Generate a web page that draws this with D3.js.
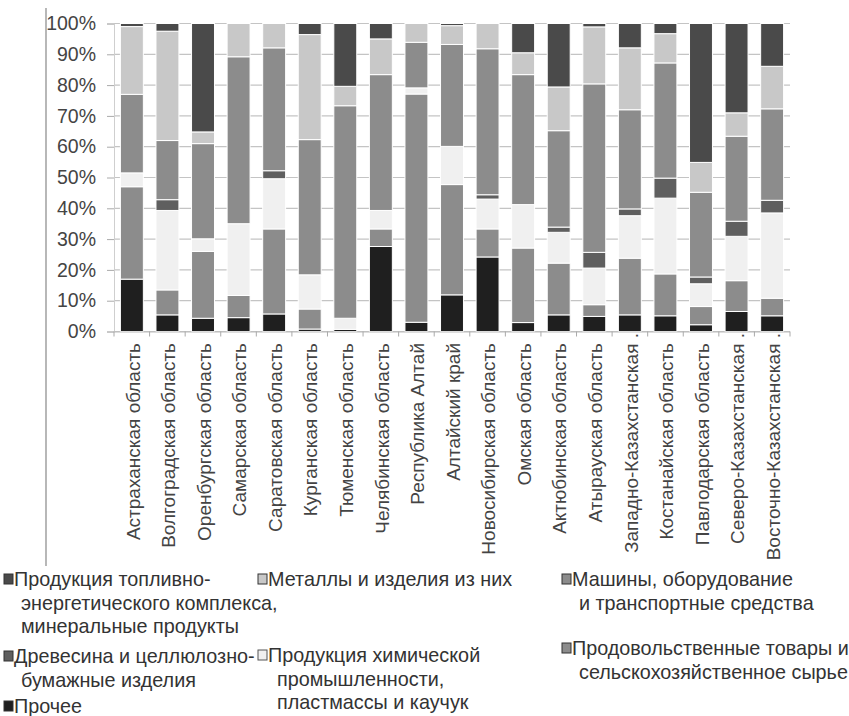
<!DOCTYPE html>
<html><head><meta charset="utf-8">
<script src="https://cdn.jsdelivr.net/npm/d3@7"></script>
<style>
body{margin:0;background:#fff;}
svg{display:block;font-family:"Liberation Sans",Arial,sans-serif;}
</style></head>
<body><svg id="c" width="849" height="716"></svg>
<script>
const regions = ["Астраханская область","Волгоградская область","Оренбургская область","Самарская область","Саратовская область","Курганская область","Тюменская область","Челябинская область","Республика Алтай","Алтайский край","Новосибирская область","Омская область","Актюбинская область","Атырауская область","Западно-Казахстанская .","Костанайская область","Павлодарская область","Северо-Казахстанская .","Восточно-Казахстанская ."];
const prochee = [17, 5.4, 4.3, 4.5, 5.7, 0.8, 0.7, 27.6, 3, 11.9, 24.2, 2.9, 5.4, 4.9, 5.4, 5.1, 2.2, 6.5, 5.1];
const prodov  = [30, 8.1, 21.7, 7.2, 27.6, 6.5, 0, 5.7, 74.1, 35.8, 9.1, 24.2, 16.8, 3.8, 18.4, 13.6, 5.9, 10, 5.7];
const himiya  = [4.5, 25.8, 4.1, 23.3, 16.3, 11.1, 3.6, 6, 2, 12.4, 9.7, 14.1, 10, 11.9, 13.8, 24.6, 7.4, 14.4, 27.7];
const drevesina = [0, 3.5, 0, 0, 2.6, 0, 0, 0, 0, 0, 1.4, 0, 1.7, 5.1, 2.2, 6.5, 2.2, 4.9, 4.1];
const mashiny = [25.5, 19.2, 30.9, 54.2, 39.9, 43.9, 69, 44.1, 14.8, 33.1, 47.4, 42.2, 31.3, 54.7, 32.2, 37.4, 27.5, 27.6, 29.7];
const metally = [22, 35.5, 3.8, 10.8, 7.9, 34.1, 6.3, 11.6, 6.1, 6.1, 8.2, 7.1, 14.2, 18.5, 20.1, 9.5, 9.7, 7.6, 13.8];
const tek     = [1, 2.5, 35.2, 0, 0, 3.6, 20.4, 5, 0, 0.7, 0, 9.5, 20.6, 1.1, 7.9, 3.3, 45.1, 29, 13.9];
const yTicks = [0,10,20,30,40,50,60,70,80,90,100];

const seriesKeys = ["prochee","prodov","himiya","drevesina","mashiny","metally","tek"];
const seriesData = {prochee, prodov, himiya, drevesina, mashiny, metally, tek};
const colors = {prochee:"#1f1f1f", prodov:"#8c8c8c", himiya:"#f0f0f0", drevesina:"#5f5f5f", mashiny:"#8c8c8c", metally:"#c8c8c8", tek:"#4a4a4a"};

const legendItems = [
  {key:"tek", lines:["Продукция топливно-","энергетического комплекса,","минеральные продукты"], x:4, y:586},
  {key:"metally", lines:["Металлы и изделия из них"], x:258, y:586},
  {key:"mashiny", lines:["Машины, оборудование","и  транспортные средства"], x:562, y:586},
  {key:"drevesina", lines:["Древесина и целлюлозно-","бумажные изделия"], x:4, y:663},
  {key:"himiya", lines:["Продукция химической","промышленности,","пластмассы и каучук"], x:258, y:662},
  {key:"prodov", lines:["Продовольственные товары и","сельскохозяйственное сырье"], x:562, y:655},
  {key:"prochee", lines:["Прочее"], x:4, y:713}
];

const table = regions.map((r,i)=>{const o={region:r}; seriesKeys.forEach(k=>o[k]=seriesData[k][i]); return o;});
const stackData = d3.stack().keys(seriesKeys)(table);

const svg = d3.select("#c");
const pL=114, pR=790, pT=23.5, pB=331.5;
const x = d3.scaleBand().domain(regions).range([pL,pR]).paddingInner(0.355).paddingOuter(0.18);
const y = d3.scaleLinear().domain([0,100]).range([pB,pT]);

svg.append("line").attr("x1",46).attr("x2",46).attr("y1",8).attr("y2",566).attr("stroke","#888").attr("stroke-width",1.2);

svg.append("g").selectAll("line").data(yTicks).join("line")
  .attr("x1",pL).attr("x2",pR).attr("y1",d=>y(d)).attr("y2",d=>y(d))
  .attr("stroke","#c4c4c4").attr("stroke-width",1.2);

const yAxis = d3.axisLeft(y).tickValues(yTicks).tickFormat(d=>d+"%").tickSize(7).tickPadding(11);
const ga = svg.append("g").attr("transform",`translate(${pL},0)`).call(yAxis);
ga.select(".domain").attr("stroke","#cfcfcf");
ga.selectAll(".tick line").attr("stroke","#aaa");
ga.selectAll("text").attr("font-size",19.5).attr("fill","#444").attr("font-family","Liberation Sans, Arial");

svg.append("g").selectAll("g").data(stackData).join("g")
  .attr("fill",d=>colors[d.key])
  .selectAll("rect").data(d=>d).join("rect")
  .attr("x",d=>x(d.data.region)).attr("width",x.bandwidth())
  .attr("y",d=>y(d[1])).attr("height",d=>Math.max(0,y(d[0])-y(d[1])))
  .attr("stroke","#fff").attr("stroke-width",1);

svg.append("line").attr("x1",pL).attr("x2",pR).attr("y1",pB+0.5).attr("y2",pB+0.5).attr("stroke","#bbb");
svg.append("g").selectAll("line").data(d3.range(regions.length+1)).join("line")
  .attr("x1",i=>pL+i*(pR-pL)/regions.length).attr("x2",i=>pL+i*(pR-pL)/regions.length)
  .attr("y1",pB).attr("y2",pB+5).attr("stroke","#aaa");
svg.append("g").selectAll("text").data(regions).join("text")
  .attr("transform",d=>`translate(${x(d)+x.bandwidth()/2+1},${d.endsWith(" .")?333:343}) rotate(-90)`)
  .attr("text-anchor","end").attr("dy","0.35em")
  .attr("font-size",19).attr("fill","#444").text(d=>d);

const lg = svg.append("g").selectAll("g").data(legendItems).join("g")
  .attr("transform",d=>`translate(${d.x},${d.y})`);
lg.append("rect").attr("x",0).attr("y",-12).attr("width",9).attr("height",10)
  .attr("fill",d=>colors[d.key]).attr("stroke",d=>d.key==="himiya"?"#555":"#333").attr("stroke-width",1);
lg.each(function(d){
  const g=d3.select(this);
  d.lines.forEach((ln,i)=>{
    g.append("text").attr("x",i===0?10:(d.key==="himiya"?19:17)).attr("y",i*23.5)
      .attr("font-size",19.8).attr("fill","#333").text(ln);
  });
});
</script></body></html>
